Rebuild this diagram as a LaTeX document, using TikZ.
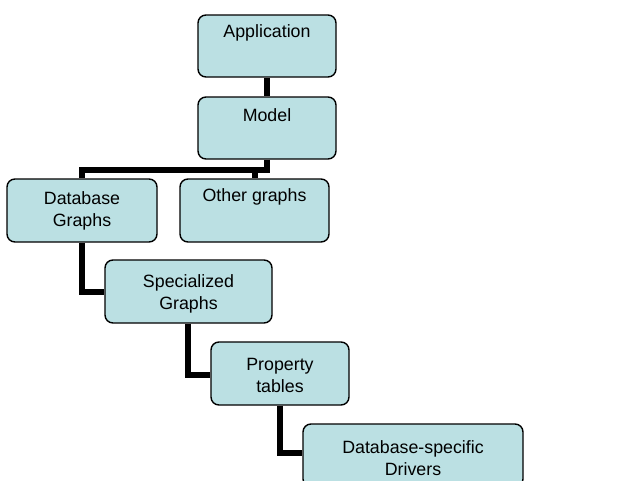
\documentclass[tikz,border=0pt]{standalone}
\usepackage{fontspec}
\setmainfont{Liberation Sans}
\usetikzlibrary{backgrounds}
\definecolor{boxfill}{HTML}{BBE0E3}
\begin{document}
\begin{tikzpicture}[x=1pt,y=-1pt,
  box/.style={draw=black,line width=1.4pt,fill=boxfill,rounded corners=8pt,inner sep=0pt},
  lbl/.style={inner sep=0pt,align=center,font=\fontsize{17.8}{22}\selectfont},
  conn/.style={draw=black,line width=5.5pt}]
\useasboundingbox (0,0) rectangle (624,480);
\clip (0,0) rectangle (624,480);
% boxes
\node[box,minimum width=138pt,minimum height=62pt] (app) at (267,46) {};
\node[box,minimum width=138pt,minimum height=62pt] (model) at (267,128) {};
\node[box,minimum width=150pt,minimum height=63pt] (db) at (82,210.5) {};
\node[box,minimum width=149pt,minimum height=63pt] (other) at (254.5,210.5) {};
\node[box,minimum width=167pt,minimum height=63pt] (spec) at (188.5,291.5) {};
\node[box,minimum width=138pt,minimum height=63pt] (prop) at (280,373.5) {};
\node[box,minimum width=220pt,minimum height=63pt] (drv) at (413,455.5) {};
% connector bends
\coordinate (j1) at (267,170);
\coordinate (j2) at (82,170);
\coordinate (j3) at (255,170);
\coordinate (j4) at (82,292);
\coordinate (j5) at (188,375);
\coordinate (j6) at (280,453);
% connectors behind boxes
\begin{scope}[on background layer]
\draw[conn] (app.south) -- (model.north);
\draw[conn] (model.south) -- (j1) -- (j2) -- (j2 |- db.north);
\draw[conn] (j3) -- (j3 |- other.north);
\draw[conn] (db.south) -- (j4) -- (spec.west |- j4);
\draw[conn] (spec.south -| j5) -- (j5) -- (prop.west |- j5);
\draw[conn] (prop.south) -- (j6) -- (drv.west |- j6);
\end{scope}
% labels
\node[lbl] (tapp) at (267,33) {Application};
\node[lbl] (tmodel) at (267,115) {Model};
\node[lbl] (tdb) at (82,211) {Database\\Graphs};
\node[lbl] (tother) at (254.5,197) {Other graphs};
\node[lbl] (tspec) at (188.5,294) {Specialized\\Graphs};
\node[lbl] (tprop) at (280,375) {Property\\tables};
\node[lbl] (tdrv) at (413,458) {Database-specific\\Drivers};
\end{tikzpicture}
\end{document}
